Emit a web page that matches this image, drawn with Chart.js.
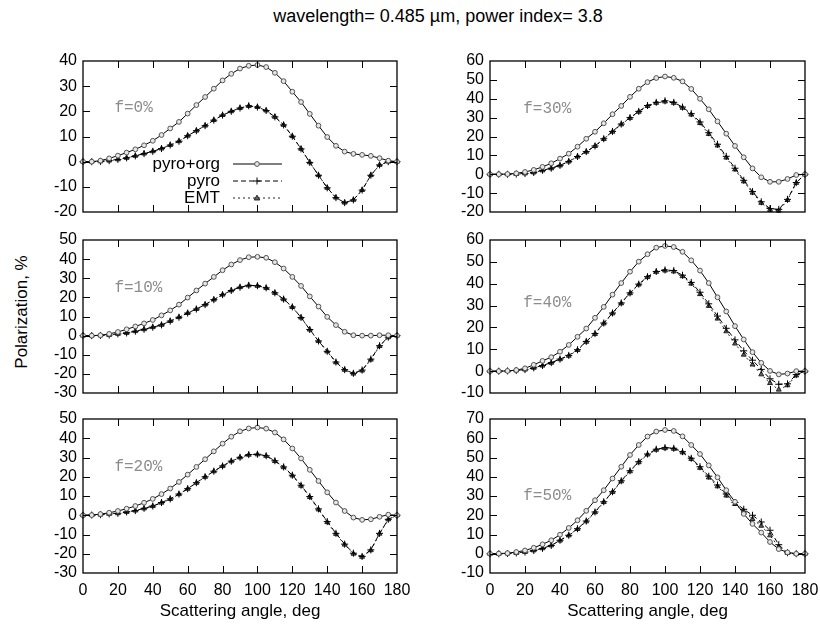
<!DOCTYPE html>
<html>
<head>
<meta charset="utf-8">
<script src="https://cdn.jsdelivr.net/npm/chart.js@4.4.0/dist/chart.umd.min.js"></script>
<style>
  body { margin: 0; background: #fff; }
  #wrap { position: relative; width: 820px; height: 628px; overflow: hidden;
          font-family: "Liberation Sans", Arial, sans-serif; color: #000; }
  #wrap canvas { position: absolute; }
  #title { position: absolute; left: 138px; width: 600px; top: 6px; text-align: center; font-size: 18px; }
  #ylab { position: absolute; left: 22px; top: 312px; font-size: 17px; white-space: nowrap;
          transform: translate(-50%, -50%) rotate(-90deg); }
</style>
</head>
<body>
<div id="wrap">
  <div id="title">wavelength= 0.485 &micro;m, power index= 3.8</div>
  <div id="ylab">Polarization, %</div>
</div>
<script>
// scattering angles, deg
const angles = [0,5,10,15,20,25,30,35,40,45,50,55,60,65,70,75,80,85,90,
                95,100,105,110,115,120,125,130,135,140,145,150,155,160,165,170,175,180];

const seriesNames = ["pyro+org", "pyro", "EMT"];

// f = 0%
const org0  = [0,0,0.4,1.3,2.4,3.6,4.9,6.5,8.3,10.6,13.2,15.8,19.1,22.5,25.7,29.0,32.3,34.9,37.0,38.1,38.4,37.6,35.3,32.0,27.8,23.7,19.0,14.3,9.8,6.3,4.0,3.1,2.7,2.3,1.4,0.4,0];
const pyro0 = [0,0,0.1,0.4,0.9,1.5,2.3,3.2,4.1,5.2,6.6,8.1,10.3,12.3,14.3,16.5,18.5,20.0,21.3,22.2,21.7,20.3,17.8,14.6,10.1,5.1,-0.3,-5.4,-10.4,-14.3,-16.3,-15.2,-11.3,-5.4,-1.3,0,0];
const emt0  = [0,0,0.1,0.4,0.9,1.5,2.3,3.2,4.1,5.2,6.6,8.1,10.3,12.3,14.3,16.5,18.5,20.0,21.3,22.1,21.7,20.3,17.8,14.6,10.1,5.1,-0.3,-5.4,-10.4,-14.3,-16.3,-15.2,-11.3,-5.4,-1.3,0,0];
// f = 10%
const org10  = [0,0,0.2,0.9,1.9,3.3,4.8,6.4,8.2,10.6,13.2,16.2,19.9,23.6,27.2,30.7,34.2,37.2,39.5,41.0,41.2,40.7,38.4,35.1,30.7,26.0,20.5,15.2,9.8,5.5,2.0,0.2,0,0,0.2,0.2,0];
const pyro10 = [0,0,0.1,0.3,0.9,1.4,2.3,3.3,4.4,5.6,7.6,9.6,11.8,13.9,16.2,18.8,21.4,23.6,25.3,26.3,26.1,25.0,22.4,19.1,15.0,9.5,3.2,-2.8,-8.2,-13.8,-17.8,-19.7,-18.0,-12.3,-5.3,-0.8,0];
const emt10  = [0,0,0.1,0.3,0.9,1.4,2.3,3.3,4.4,5.6,7.6,9.6,11.8,13.9,16.2,18.8,21.4,23.6,25.3,26.2,26.0,24.9,22.3,19.0,14.9,9.4,3.1,-2.9,-8.3,-14.0,-17.9,-19.9,-18.3,-12.6,-5.5,-0.9,0];
// f = 20%
const org20  = [0,0.1,0.6,1.3,2.2,3.4,4.8,6.5,8.5,11.0,13.9,17.3,21.1,25.1,29.1,33.2,37.2,40.8,43.6,45.1,45.6,45.0,43.0,39.4,34.7,29.5,23.6,17.8,11.9,6.6,2.2,-1.2,-2.4,-2.1,-0.8,0.3,0];
const pyro20 = [0,0.1,0.3,0.7,1.0,1.7,2.4,3.6,4.8,6.6,8.5,11.0,13.8,16.9,20.0,22.9,25.6,28.1,30.1,31.5,31.7,30.9,28.3,25.1,20.8,15.6,9.7,3.3,-3.3,-9.4,-15.0,-19.7,-21.4,-18.0,-9.4,-2.1,0];
const emt20  = [0,0.1,0.3,0.7,1.0,1.7,2.4,3.5,4.7,6.5,8.4,10.9,13.7,16.8,19.9,22.8,25.5,28.0,30.0,31.4,31.6,30.8,28.1,24.9,20.6,15.3,9.4,3.0,-3.6,-9.7,-15.3,-20.0,-21.6,-18.2,-9.6,-2.2,0];
// f = 30%
const org30  = [0,0,0.1,0.5,1.2,2.3,3.9,5.8,8.3,10.9,14.6,18.8,22.5,27.0,31.8,36.2,41.0,45.3,48.8,51.0,51.8,51.1,49.2,45.2,40.0,34.4,28.0,21.5,15.0,9.0,3.1,-1.6,-4.0,-4.0,-2.5,-0.4,0];
const pyro30 = [0,0,0,0.1,0.4,0.9,2.1,3.2,4.7,6.8,9.4,12.0,15.0,18.8,22.7,26.6,30.0,33.3,36.4,38.1,38.9,38.1,35.6,32.1,27.7,22.0,15.9,9.5,3.2,-3.2,-9.2,-14.6,-18.2,-18.6,-13.3,-4.4,0];
const emt30  = [0,0,0,0.1,0.4,0.9,2.0,3.1,4.6,6.7,9.3,11.9,14.9,18.6,22.5,26.4,29.8,33.1,36.1,37.8,38.5,37.8,35.2,31.6,27.1,21.3,15.2,8.8,2.5,-3.8,-9.8,-15.2,-18.9,-19.3,-13.7,-4.6,0];
// f = 40%
const org40  = [0,0,0.1,0.5,1.3,2.9,4.7,6.4,8.9,12.0,15.7,19.5,24.4,29.4,35.0,40.3,45.5,50.1,53.5,56.5,57.3,56.8,54.6,50.7,46.0,40.3,33.8,27.3,20.6,14.5,8.7,3.8,0.1,-1.5,-1.1,0,0];
const pyro40 = [0,0,0.1,0.3,0.7,1.5,2.6,3.9,5.5,7.2,9.8,13.6,17.2,22.0,26.6,31.2,35.8,39.8,43.2,45.6,46.3,46.0,43.9,40.6,36.1,30.8,25.2,19.6,14.3,9.3,5.0,0.8,-3.5,-6.0,-5.8,-1.6,0];
const emt40  = [0,0,0.1,0.3,0.7,1.5,2.5,3.8,5.4,7.0,9.6,13.4,17.0,21.8,26.4,31.0,35.6,39.6,43.0,45.4,46.0,45.6,43.4,40.0,35.2,29.8,24.0,18.2,12.6,7.5,3.0,-1.5,-5.5,-8.5,-6.5,-2.0,0];
// f = 50%
const org50  = [0,0.1,0.3,0.9,1.7,3.1,4.9,7.0,9.9,13.4,17.4,22.3,27.8,33.0,39.1,45.2,51.3,56.5,60.9,63.5,64.3,63.8,61.0,56.5,51.8,45.9,39.7,33.0,27.0,20.7,15.5,11.0,6.1,2.4,0.7,0,0];
const pyro50 = [0,0,0.1,0.4,0.9,1.7,2.8,4.3,7.0,9.6,13.0,17.0,21.7,27.0,32.2,37.9,43.1,47.8,51.8,54.3,55.1,54.8,53.0,49.6,45.2,40.3,35.7,31.0,26.6,23.1,20.0,16.5,12.2,4.7,0.5,0,0];
const emt50  = [0,0,0.1,0.4,0.9,1.7,2.8,4.3,6.8,9.5,12.8,16.8,21.5,26.8,32.0,37.6,42.8,47.5,51.5,54.0,54.8,54.5,52.6,49.2,44.6,39.6,35.0,30.2,25.8,22.0,18.0,14.5,9.5,3.5,0.4,0,0];

// panels, left column top-down then right column top-down
const panelLabels = ["f=0%", "f=10%", "f=20%", "f=30%", "f=40%", "f=50%"];
const panelSeries = [
  [org0, pyro0, emt0], [org10, pyro10, emt10], [org20, pyro20, emt20],
  [org30, pyro30, emt30], [org40, pyro40, emt40], [org50, pyro50, emt50]
];
const yMinTicks = [-20, -30, -30, -20, -10, -10];
const yMaxTicks = [40, 50, 50, 60, 60, 70];
const labelAt = [[18, 21.3], [18, 25.1], [18, 25.2], [19, 34.6], [19, 31.5], [19, 30.2]];

// plot area boxes in page pixels: left, top, right, bottom
const boxes = [
  [83, 61, 397, 212], [83, 240, 397, 393], [83, 419, 397, 573],
  [490, 61, 805, 212], [490, 240, 805, 393], [490, 419, 805, 573]
];

const styles = [
  { borderColor: "#000", borderWidth: 1, borderDash: [],
    pointStyle: "circle", pointRadius: 2.4, pointBorderColor: "#555", pointBackgroundColor: "#e6e6e6", pointBorderWidth: 1 },
  { borderColor: "#000", borderWidth: 1, borderDash: [5, 3],
    pointStyle: "cross", pointRadius: 3.5, pointBorderColor: "#000", pointBackgroundColor: "#000", pointBorderWidth: 1 },
  { borderColor: "#222", borderWidth: 1, borderDash: [2, 3],
    pointStyle: "triangle", pointRadius: 2.8, pointBorderColor: "#222", pointBackgroundColor: "#666", pointBorderWidth: 1 }
];

const tickFont = { family: '"Liberation Sans", Arial, sans-serif', size: 16 };

function drawMarker(ctx, st, x, y) {
  const r = st.pointRadius;
  ctx.save();
  ctx.setLineDash([]);
  ctx.lineWidth = 1;
  ctx.strokeStyle = st.pointBorderColor;
  ctx.fillStyle = st.pointBackgroundColor;
  ctx.beginPath();
  if (st.pointStyle === "circle") {
    ctx.arc(x, y, r, 0, Math.PI * 2);
    ctx.fill(); ctx.stroke();
  } else if (st.pointStyle === "cross") {
    ctx.moveTo(x - r, y); ctx.lineTo(x + r, y);
    ctx.moveTo(x, y - r); ctx.lineTo(x, y + r);
    ctx.stroke();
  } else {
    ctx.moveTo(x, y - r); ctx.lineTo(x + r, y + r * 0.7); ctx.lineTo(x - r, y + r * 0.7);
    ctx.closePath(); ctx.fill(); ctx.stroke();
  }
  ctx.restore();
}

// gnuplot-like frame, inward ticks, panel label and legend
const gnuFrame = {
  id: "gnuFrame",
  afterDatasetsDraw(chart, args, opts) {
    const { ctx, chartArea: a, scales } = chart;
    ctx.save();
    ctx.strokeStyle = "#000";
    ctx.lineWidth = 1;
    ctx.setLineDash([]);
    ctx.beginPath();
    scales.x.ticks.forEach(t => {
      if (t.value <= scales.x.min || t.value >= scales.x.max) return;
      const px = Math.round(scales.x.getPixelForValue(t.value)) + 0.5;
      ctx.moveTo(px, a.bottom); ctx.lineTo(px, a.bottom - 7);
      ctx.moveTo(px, a.top); ctx.lineTo(px, a.top + 7);
    });
    scales.y.ticks.forEach(t => {
      if (t.value <= scales.y.min || t.value >= scales.y.max) return;
      const py = Math.round(scales.y.getPixelForValue(t.value)) + 0.5;
      ctx.moveTo(a.left, py); ctx.lineTo(a.left + 7, py);
      ctx.moveTo(a.right, py); ctx.lineTo(a.right - 7, py);
    });
    ctx.stroke();
    ctx.lineWidth = 1.3;
    ctx.strokeRect(a.left, a.top, a.right - a.left, a.bottom - a.top);

    ctx.font = '16px "Liberation Mono", "DejaVu Sans Mono", monospace';
    ctx.fillStyle = "#8c8c8c";
    ctx.textAlign = "left";
    ctx.textBaseline = "middle";
    ctx.fillText(opts.text, scales.x.getPixelForValue(opts.at[0]), scales.y.getPixelForValue(opts.at[1]));

    if (opts.legend) {
      ctx.font = '17px "Liberation Sans", Arial, sans-serif';
      chart.data.datasets.forEach((ds, k) => {
        const y = a.top + 103 + k * 17;
        ctx.fillStyle = "#000";
        ctx.textAlign = "right";
        ctx.fillText(ds.label, a.left + 137, y);
        ctx.beginPath();
        ctx.setLineDash(ds.borderDash);
        ctx.strokeStyle = ds.borderColor;
        ctx.lineWidth = 1;
        ctx.moveTo(a.left + 150, y); ctx.lineTo(a.left + 199, y);
        ctx.stroke();
        drawMarker(ctx, styles[k], a.left + 174, y);
      });
    }
    ctx.restore();
  }
};

const wrap = document.getElementById("wrap");

boxes.forEach((box, i) => {
  const [L, T, R, B] = box;
  const bottomRow = (i === 2 || i === 5);
  const padL = 70, padT = 10, padR = 14;
  const padB = bottomRow ? 0 : 10;
  const axisH = bottomRow ? 52 : 0;
  const w = (R - L) + padL + padR;
  const h = (B - T) + padT + padB + axisH;

  const canvas = document.createElement("canvas");
  canvas.width = w; canvas.height = h;
  canvas.style.left = (L - padL) + "px";
  canvas.style.top = (T - padT) + "px";
  canvas.style.width = w + "px";
  canvas.style.height = h + "px";
  wrap.appendChild(canvas);

  const datasets = panelSeries[i].map((vals, k) => Object.assign({
    label: seriesNames[k],
    data: angles.map((a, j) => ({ x: a, y: vals[j] })),
    tension: 0,
    fill: false,
    clip: 8
  }, styles[k]));

  new Chart(canvas, {
    type: "line",
    data: { datasets },
    options: {
      responsive: false,
      animation: false,
      layout: { padding: { left: 0, top: padT, right: padR, bottom: padB } },
      plugins: {
        legend: { display: false },
        tooltip: { enabled: false },
        gnuFrame: { text: panelLabels[i], at: labelAt[i], legend: i === 0 }
      },
      scales: {
        x: {
          type: "linear",
          min: 0, max: 180,
          grid: { display: false, drawTicks: false },
          border: { display: false },
          ticks: {
            display: bottomRow, stepSize: 20, padding: 8, maxRotation: 0,
            autoSkip: false, color: "#000", font: tickFont
          },
          title: {
            display: bottomRow, text: "Scattering angle, deg", color: "#000",
            padding: { top: 0, bottom: 3 },
            font: { family: '"Liberation Sans", Arial, sans-serif', size: 17 }
          },
          afterFit(s) { s.height = axisH; s.paddingLeft = 0; s.paddingRight = 0; }
        },
        y: {
          min: yMinTicks[i], max: yMaxTicks[i],
          grid: { display: false, drawTicks: false },
          border: { display: false },
          ticks: { stepSize: 10, padding: 6, autoSkip: false, color: "#000", font: tickFont },
          afterFit(s) { s.width = padL; s.paddingTop = 0; s.paddingBottom = 0; }
        }
      }
    },
    plugins: [gnuFrame]
  });
});
</script>
</body>
</html>
